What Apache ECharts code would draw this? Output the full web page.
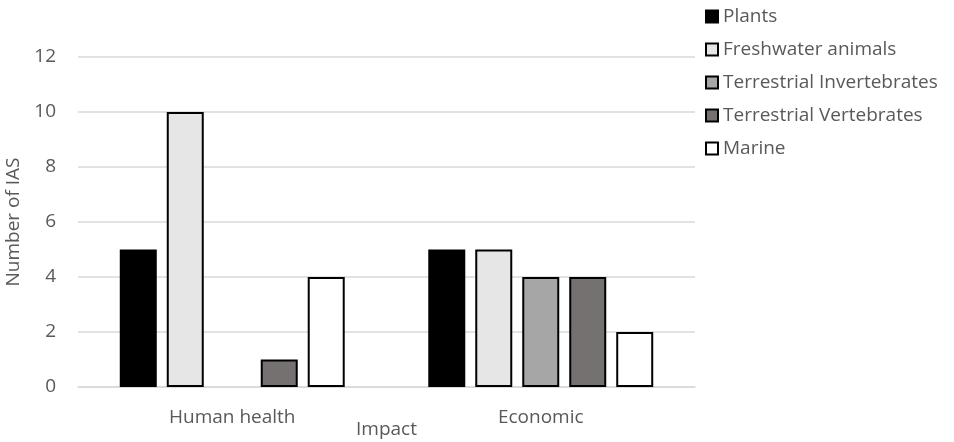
<!DOCTYPE html>
<html>
<head>
    <meta charset="UTF-8">
    <title></title>
    <script src="https://cdn.jsdelivr.net/npm/echarts@6/dist/echarts.min.js"></script>
    <style>
        *{margin:0;padding:0;}
        body,html{ height:100%; width:100%; background:#fff; }
        #main{ width:954px; height:442px; }
    </style>
</head>
<body>
<div id="main"></div>
<script>
    // data
    var categories = ['Human health', 'Economic'];
    var seriesNames = ['Plants', 'Freshwater animals', 'Terrestrial Invertebrates', 'Terrestrial Vertebrates', 'Marine'];
    var plants = [5, 5];
    var freshwater = [10, 5];
    var terrInvert = [0, 4];
    var terrVert = [1, 4];
    var marine = [4, 2];
    var fills = ['#000000', '#e7e6e6', '#a6a6a6', '#767171', '#ffffff'];

    var values = [plants, freshwater, terrInvert, terrVert, marine];
    var series = [];
    for (var i = 0; i < seriesNames.length; i++) {
        // a zero bar has no outline in the original
        var d = values[i].map(function (v) {
            return v === 0 ? { value: v, itemStyle: { borderWidth: 0 } } : v;
        });
        series.push({
            name: seriesNames[i],
            type: 'bar',
            data: d,
            barWidth: 37,
            barGap: '27%',
            itemStyle: { color: fills[i], borderColor: '#000', borderWidth: 2 }
        });
    }

    var chart = echarts.init(document.getElementById('main'));
    chart.setOption({
        animation: false,
        textStyle: { fontFamily: 'Open Sans', color: '#595959' },
        grid: { left: 78, right: 259, top: 57, bottom: 55, outerBoundsMode: 'none' },
        legend: {
            orient: 'vertical',
            left: 700,
            top: 2,
            itemWidth: 12,
            itemHeight: 12,
            itemGap: 14,
            icon: 'rect',
            textStyle: { fontSize: 19, color: '#595959' },
            data: seriesNames
        },
        xAxis: {
            type: 'category',
            data: categories,
            name: 'Impact',
            nameLocation: 'middle',
            nameGap: 33,
            nameMoveOverlap: false,
            nameTextStyle: { fontSize: 19, color: '#595959' },
            axisLine: { lineStyle: { color: '#d9d9d9', width: 1.5 } },
            axisTick: { show: false },
            axisLabel: { fontSize: 19, color: '#595959', margin: 21 }
        },
        yAxis: {
            type: 'value',
            min: 0,
            max: 12,
            interval: 2,
            name: 'Number of IAS',
            nameLocation: 'middle',
            nameGap: 53,
            nameTextStyle: { fontSize: 19, color: '#595959' },
            axisLine: { show: false },
            axisTick: { show: false },
            axisLabel: { fontSize: 19, color: '#595959', margin: 22 },
            splitLine: { lineStyle: { color: '#d9d9d9', width: 1.5 } }
        },
        series: series
    });
</script>
</body>
</html>
